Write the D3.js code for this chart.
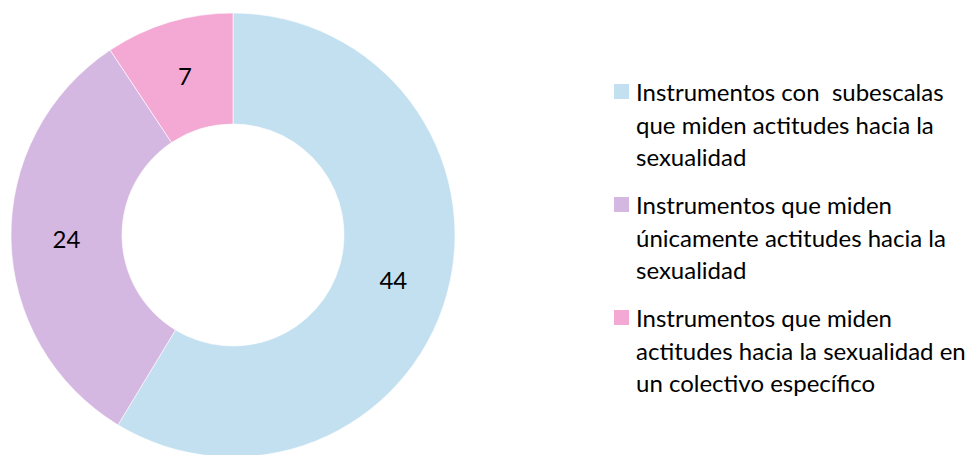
<!DOCTYPE html>
<html>
<head>
<meta charset="utf-8">
<script src="https://cdn.jsdelivr.net/npm/d3@7"></script>
<style>
  html, body { margin: 0; padding: 0; background: #ffffff; }
  svg { display: block; }
</style>
</head>
<body>
<svg id="chart" width="980" height="455"></svg>
<script>
// Instrument categories and counts
const categories = [
  "Instrumentos con  subescalas que miden actitudes hacia la sexualidad",
  "Instrumentos que miden únicamente actitudes hacia la sexualidad",
  "Instrumentos que miden actitudes hacia la sexualidad en un colectivo específico"
];
const legendLines = [
  ["Instrumentos con  subescalas", "que miden actitudes hacia la", "sexualidad"],
  ["Instrumentos que miden", "únicamente actitudes hacia la", "sexualidad"],
  ["Instrumentos que miden", "actitudes hacia la sexualidad en", "un colectivo específico"]
];
const values = [44, 24, 7];
const colors = ["#c3e0f0", "#d5b8e1", "#f3a9d3"];

const FONT = "Lato, 'Open Sans', sans-serif";
const svg = d3.select("#chart");

const cx = 233, cy = 235, outerR = 222, innerR = 111;

const pie = d3.pie().sort(null).value(d => d)(values);
const arc = d3.arc().innerRadius(innerR).outerRadius(outerR);
const labelArc = d3.arc().innerRadius((innerR + outerR) / 2).outerRadius((innerR + outerR) / 2);

const g = svg.append("g").attr("transform", `translate(${cx},${cy})`);

g.selectAll("path.slice")
  .data(pie)
  .join("path")
  .attr("class", "slice")
  .attr("d", arc)
  .attr("fill", (d, i) => colors[i])
  .attr("stroke", "#ffffff")
  .attr("stroke-width", 0.6);

g.selectAll("text.value")
  .data(pie)
  .join("text")
  .attr("class", "value")
  .attr("transform", d => `translate(${labelArc.centroid(d)})`)
  .attr("text-anchor", "middle")
  .attr("dominant-baseline", "central")
  .attr("font-family", FONT)
  .attr("font-size", 24)
  .attr("fill", "#000")
  .text(d => d.data);

// Legend
const legendX = 614, legendTop = 101, lineH = 32.5, blockGap = 113;
const legend = svg.append("g");
legendLines.forEach((lines, i) => {
  const y0 = legendTop + i * blockGap;
  legend.append("rect")
    .attr("x", legendX)
    .attr("y", y0 - 17)
    .attr("width", 15)
    .attr("height", 15)
    .attr("fill", colors[i]);
  const t = legend.append("text")
    .attr("font-family", FONT)
    .attr("font-size", 24)
    .attr("fill", "#000")
    .attr("xml:space", "preserve");
  lines.forEach((ln, j) => {
    t.append("tspan")
      .attr("x", 636)
      .attr("y", y0 + j * lineH)
      .text(ln);
  });
});
</script>
</body>
</html>
